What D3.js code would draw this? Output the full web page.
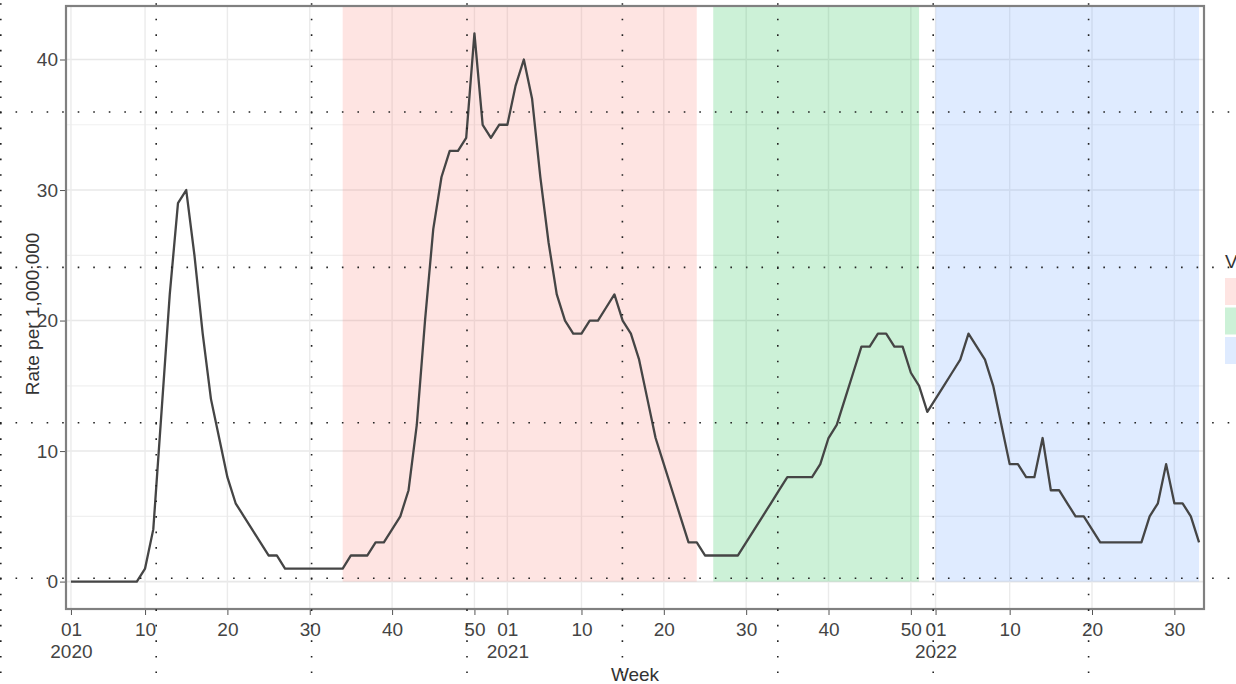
<!DOCTYPE html>
<html>
<head>
<meta charset="utf-8">
<script src="https://cdn.jsdelivr.net/npm/d3@7"></script>
<style>
  body { margin: 0; background: #fff; }
  text { font-family: "Liberation Sans Narrow", "Arial Narrow", "Liberation Sans", Arial, sans-serif; }
</style>
</head>
<body>
<svg id="chart"></svg>
<script>
//Data: weekly rate per 1,000,000, ISO weeks 2020-W01 to 2022-W33
var years = [2020, 2021, 2022]
var weeksInYear = [53, 52, 33]
var rate2020 = [0,0,0,0,0,0,0,0,0, 1,4,13,22,29,30,25,19,14,11,8,
                6,5,4,3,2,2,1,1,1,1, 1,1,1,1,2,2,2,3,3,4,
                5,7,12,20,27,31,33,33,34,42, 35,34,35]
var rate2021 = [35,38,40,37,31,26,22,20,19,19, 20,20,21,22,20,19,17,14,11,9,
                7,5,3,3,2,2,2,2,2,3, 4,5,6,7,8,8,8,8,9,11,
                12,14,16,18,18,19,19,18,18,16, 15,13]
var rate2022 = [14,15,16,17,19,18,17,15,12,9, 9,8,8,11,7,7,6,5,5,4,
                3,3,3,3,3,3,5,6,9,6, 6,5,3]
var weekTicks = [1, 10, 20, 30, 40, 50]

//Variant periods (year, week)
var variants = ["Alpha", "Delta", "Omicron"]
var variantStart = [[2020, 34], [2021, 26], [2022, 1]]
var variantEnd = [[2021, 24], [2021, 51], [2022, 33]]
var variantColours = ["#F8766D", "#00BA38", "#619CFF"]

//Size and margins
var width = 1236
var height = 684
var panel = {left: 66, right: 1204, top: 6, bottom: 609}

var svg = d3.select("#chart")
    .attr("width", width)
    .attr("height", height)

//turn year/week into a running week index
var yearOffset = {}
var acc = 0
years.forEach(function(y, i) { yearOffset[y] = acc; acc += weeksInYear[i] })
function weekIndex(y, w) { return yearOffset[y] + w - 1 }

var rates = rate2020.concat(rate2021, rate2022)
var data = rates.map(function(r, i) { return {i: i, rate: r} })
var n = data.length

//Scales, with the ggplot style padding
var x = d3.scaleLinear().domain([-0.6, n - 1 + 0.6]).range([panel.left, panel.right])
var y = d3.scaleLinear().domain([-2.1, 44.1]).range([panel.bottom, panel.top])

//tick positions and labels
var ticks = []
years.forEach(function(yr, k) {
    weekTicks.forEach(function(w) {
        if (w <= weeksInYear[k]) ticks.push({i: weekIndex(yr, w), week: w, year: yr})
    })
})

//Panel grid
var grid = svg.append("g")
grid.selectAll(".minor")
    .data([5, 15, 25, 35])
    .enter().append("line")
    .attr("x1", panel.left).attr("x2", panel.right)
    .attr("y1", d => y(d)).attr("y2", d => y(d))
    .attr("stroke", "#f0f0f0").attr("stroke-width", 1.2)
grid.selectAll(".major")
    .data([0, 10, 20, 30, 40])
    .enter().append("line")
    .attr("x1", panel.left).attr("x2", panel.right)
    .attr("y1", d => y(d)).attr("y2", d => y(d))
    .attr("stroke", "#e8e8e8").attr("stroke-width", 1.6)
grid.selectAll(".vmajor")
    .data(ticks)
    .enter().append("line")
    .attr("x1", d => x(d.i)).attr("x2", d => x(d.i))
    .attr("y1", panel.top).attr("y2", panel.bottom)
    .attr("stroke", "#ebebeb").attr("stroke-width", 1.4)

//Variant shading
svg.append("g")
    .selectAll("rect")
    .data(variants)
    .enter().append("rect")
    .attr("x", (d, k) => x(weekIndex(variantStart[k][0], variantStart[k][1])))
    .attr("width", (d, k) => x(weekIndex(variantEnd[k][0], variantEnd[k][1])) - x(weekIndex(variantStart[k][0], variantStart[k][1])))
    .attr("y", panel.top + 1)
    .attr("height", y(0) - panel.top - 1)
    .attr("fill", (d, k) => variantColours[k])
    .attr("fill-opacity", 0.2)

//Rate line
var line = d3.line()
    .x(d => x(d.i))
    .y(d => y(d.rate))
svg.append("path")
    .datum(data)
    .attr("d", line)
    .attr("fill", "none")
    .attr("stroke", "#454545")
    .attr("stroke-width", 2.3)
    .attr("stroke-linejoin", "round")

//Panel border
svg.append("rect")
    .attr("x", panel.left).attr("y", panel.top)
    .attr("width", panel.right - panel.left)
    .attr("height", panel.bottom - panel.top)
    .attr("fill", "none")
    .attr("stroke", "#808080")
    .attr("stroke-width", 2.2)

//Axes
var yAxis = svg.append("g")
    .attr("transform", "translate(" + (panel.left - 1) + ",0)")
    .call(d3.axisLeft(y).tickValues([0, 10, 20, 30, 40]).tickSize(5).tickPadding(2))
yAxis.select(".domain").remove()
yAxis.selectAll("line").attr("stroke", "#555")
yAxis.selectAll("text").attr("fill", "#444").style("font-size", "19px")

var xAxis = svg.append("g")
    .attr("transform", "translate(0," + (panel.bottom + 1) + ")")
    .call(d3.axisBottom(x).tickValues(ticks.map(d => d.i)).tickSize(5).tickPadding(8)
        .tickFormat(function(v) {
            var t = ticks.find(d => d.i == v)
            return t.week < 10 ? "0" + t.week : t.week
        }))
xAxis.select(".domain").remove()
xAxis.selectAll("line").attr("stroke", "#555")
xAxis.selectAll("text")
    .attr("fill", "#444")
    .style("font-size", "19px")
    .each(function(v) {
        var t = ticks.find(d => d.i == v)
        if (t.week == 1) {
            d3.select(this).append("tspan")
                .attr("x", 0).attr("dy", "1.15em")
                .text(t.year)
        }
    })

//Axis titles
svg.append("text")
    .attr("x", (panel.left + panel.right) / 2)
    .attr("y", 681)
    .attr("text-anchor", "middle")
    .attr("fill", "#333")
    .style("font-size", "19px")
    .text("Week")
svg.append("text")
    .attr("transform", "translate(39," + 314 + ") rotate(-90)")
    .attr("text-anchor", "middle")
    .attr("fill", "#333")
    .style("font-size", "19px")
    .text("Rate per 1,000,000")

//Legend: only the start of the title and the keys fit on the picture
var legend = svg.append("g").attr("transform", "translate(1225,0)")
legend.append("text")
    .attr("x", 0).attr("y", 268)
    .attr("fill", "#333")
    .style("font-size", "19px")
    .text("Va")
legend.selectAll("rect")
    .data(variants)
    .enter().append("rect")
    .attr("x", 0)
    .attr("y", (d, k) => 278 + k * 29.5)
    .attr("width", 27).attr("height", 27)
    .attr("fill", (d, k) => variantColours[k])
    .attr("fill-opacity", 0.2)

//Dotted guide overlay seen on the picture
var step = 155.4
var overlay = svg.append("g")
overlay.selectAll(".vdot")
    .data(d3.range(0, 8))
    .enter().append("line")
    .attr("x1", d => d * step + 0.8).attr("x2", d => d * step + 0.8)
    .attr("y1", 112 - 8 * step / 10 * 10).attr("y2", height)
    .attr("stroke", "#222").attr("stroke-width", 1.6)
    .attr("stroke-dasharray", "1.6," + (step / 10 - 1.6))
overlay.selectAll(".hdot")
    .data(d3.range(0, 4))
    .enter().append("line")
    .attr("x1", 0).attr("x2", width)
    .attr("y1", d => 112 + d * step).attr("y2", d => 112 + d * step)
    .attr("stroke", "#222").attr("stroke-width", 1.6)
    .attr("stroke-dasharray", "1.6," + (step / 10 - 1.6))
</script>
</body>
</html>
